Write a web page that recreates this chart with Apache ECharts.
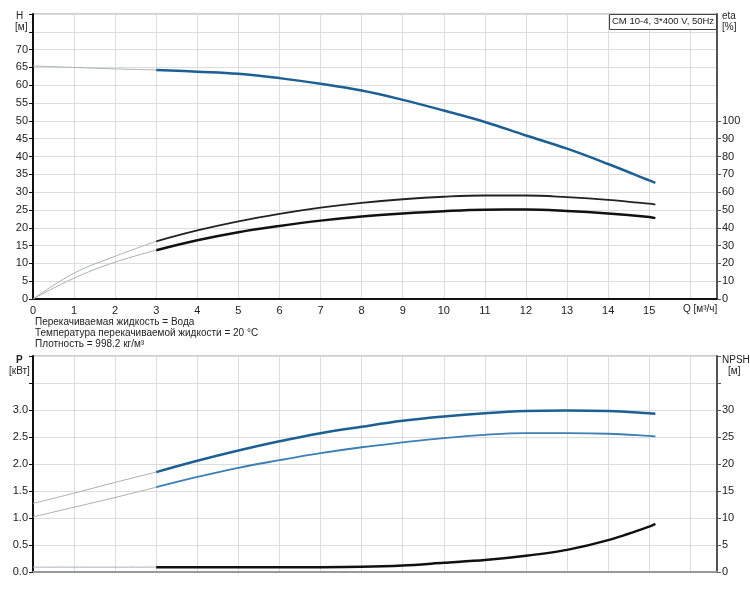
<!DOCTYPE html>
<html>
<head>
<meta charset="utf-8">
<script src="https://cdn.jsdelivr.net/npm/echarts@6/dist/echarts.min.js"></script>
<style>
  * { margin: 0; padding: 0; }
  body { background: #fff; }
  #chart { width: 750px; height: 600px; }
</style>
</head>
<body>
<div id="chart"></div>
<script>
// расход Q, м³/ч
var flowQ = [0, 1, 2, 3, 4, 5, 6, 7, 8, 9, 10, 11, 12, 13, 14, 15, 15.15];
// напор H, м
var headH = [65.4, 65.0, 64.6, 64.3, 63.8, 63.2, 62.0, 60.4, 58.5, 55.9, 52.9, 49.7, 45.9, 42.2, 37.9, 33.3, 32.6];
// КПД, %
var etaPump = [0, 14.5, 24.0, 32.4, 38.5, 43.6, 47.8, 51.3, 54.0, 56.0, 57.4, 58.1, 58.1, 57.2, 55.7, 53.5, 53.0];
var etaTotal = [0, 11.7, 20.7, 27.4, 33.0, 37.5, 41.0, 44.0, 46.3, 48.0, 49.3, 50.1, 50.2, 49.4, 48.0, 46.0, 45.4];
// мощность, кВт
var powerP1 = [1.27, 1.46, 1.66, 1.85, 2.06, 2.25, 2.42, 2.57, 2.69, 2.80, 2.88, 2.94, 2.98, 2.99, 2.98, 2.94, 2.93];
var powerP2 = [1.02, 1.20, 1.38, 1.57, 1.76, 1.93, 2.07, 2.20, 2.31, 2.40, 2.48, 2.54, 2.57, 2.57, 2.56, 2.52, 2.51];
// NPSH, м
var npsh = [0.9, 0.9, 0.9, 0.9, 0.9, 0.9, 0.9, 0.9, 0.95, 1.2, 1.7, 2.2, 3.0, 4.1, 5.9, 8.4, 8.9];

// подписанные деления шкалы КПД
var etaTicks = [0, 10, 20, 30, 40, 50, 60, 70, 80, 90, 100];

var infoLines = [
  'Перекачиваемая жидкость = Вода',
  'Температура перекачиваемой жидкости = 20 °C',
  'Плотность = 998.2 кг/м³'
];

var chart = echarts.init(document.getElementById('chart'));

function pairs(arr) {
  return flowQ.map(function (q, i) { return [q, arr[i]]; });
}
// тонкий участок 0..3 и основной участок от 3
function thin(arr) { return pairs(arr).slice(0, 4); }
function thick(arr) { return pairs(arr).slice(3); }

var font = 'Liberation Sans, Arial, sans-serif';
var gridLine = { show: true, lineStyle: { color: '#dcdcdc', width: 1 } };

function xAx(gi, labels) {
  return {
    type: 'value', gridIndex: gi, min: 0, max: 16.65, interval: 1,
    axisLine: { show: true, onZero: false, lineStyle: { color: gi === 0 ? '#111' : '#999', width: 2 } },
    axisTick: { show: false },
    axisLabel: {
      show: labels, color: '#222', fontSize: 11, fontFamily: font, margin: 6,
      formatter: function (v) { return v <= 15 ? String(v) : ''; }
    },
    splitLine: gridLine
  };
}

function yAx(gi, pos, max, step, labelMax, color, split, digits) {
  return {
    type: 'value', gridIndex: gi, position: pos, min: 0, max: max, interval: step,
    axisLine: { show: true, onZero: false, lineStyle: { color: color, width: 2 } },
    axisTick: { show: true, length: 4, lineStyle: { color: color } },
    axisLabel: {
      color: '#222', fontSize: 11, fontFamily: font, margin: 5,
      formatter: function (v) { return v <= labelMax ? v.toFixed(digits) : ''; }
    },
    splitLine: split ? gridLine : { show: false }
  };
}

function line(name, data, xi, yi, color, width, extra) {
  var s = {
    name: name, type: 'line', xAxisIndex: xi, yAxisIndex: yi, data: data,
    smooth: 0.4, symbol: 'none', lineStyle: { color: color, width: width }, z: 3
  };
  if (extra) { for (var k in extra) s[k] = extra[k]; }
  return s;
}

var thinColor = '#a9b0b8';

var p1Thick = thick(powerP1);
p1Thick[p1Thick.length - 1] = {
  value: p1Thick[p1Thick.length - 1],
  label: { show: true, formatter: 'P1', position: 'top', offset: [-8, 2], color: '#4b7fa8', fontSize: 11, fontFamily: font }
};
var p2Thick = thick(powerP2);
p2Thick[p2Thick.length - 1] = {
  value: p2Thick[p2Thick.length - 1],
  label: { show: true, formatter: 'P2', position: 'bottom', offset: [-8, -2], color: '#4b7fa8', fontSize: 11, fontFamily: font }
};

var etaAxis = yAx(0, 'right', 160, 10, 100, '#555', false, 0);
etaAxis.axisTick.customValues = etaTicks;
etaAxis.axisLabel.customValues = etaTicks;

var option = {
  animation: false,
  backgroundColor: '#fff',
  grid: [
    { left: 33, right: 33, top: 14, height: 285, show: true, borderColor: '#9a9a9a', borderWidth: 1, backgroundColor: 'transparent' },
    { left: 33, right: 33, top: 356, height: 216, show: true, borderColor: '#9a9a9a', borderWidth: 1, backgroundColor: 'transparent' }
  ],
  xAxis: [xAx(0, true), xAx(1, false)],
  yAxis: [
    yAx(0, 'left', 80, 5, 70, '#111', true, 0),
    etaAxis,
    yAx(1, 'left', 4, 0.5, 3, '#111', true, 1),
    yAx(1, 'right', 40, 5, 30, '#555', false, 0)
  ],
  series: [
    line('H thin', thin(headH), 0, 0, thinColor, 1),
    line('H', thick(headH), 0, 0, '#1c5f92', 2.5),
    line('eta1 thin', thin(etaPump), 0, 1, thinColor, 1),
    line('eta1', thick(etaPump), 0, 1, '#222', 1.8),
    line('eta2 thin', thin(etaTotal), 0, 1, thinColor, 1),
    line('eta2', thick(etaTotal), 0, 1, '#111', 2.5),
    line('P1 thin', thin(powerP1), 1, 2, thinColor, 1),
    line('P1', p1Thick, 1, 2, '#1c5f92', 2.5),
    line('P2 thin', thin(powerP2), 1, 2, thinColor, 1),
    line('P2', p2Thick, 1, 2, '#3b7fb3', 1.8),
    line('NPSH thin', thin(npsh), 1, 3, thinColor, 1),
    line('NPSH', thick(npsh), 1, 3, '#111', 2.5, { smooth: 0.3 })
  ],
  graphic: [
    { type: 'text', left: 16, top: 11, style: { text: 'H', fontSize: 10, fontFamily: font, fill: '#222' } },
    { type: 'text', left: 15, top: 22, style: { text: '[м]', fontSize: 10, fontFamily: font, fill: '#222' } },
    { type: 'text', left: 722, top: 11, style: { text: 'eta', fontSize: 10, fontFamily: font, fill: '#222' } },
    { type: 'text', left: 722, top: 22, style: { text: '[%]', fontSize: 10, fontFamily: font, fill: '#222' } },
    { type: 'text', left: 683, top: 304, style: { text: 'Q [м³/ч]', fontSize: 10, fontFamily: font, fill: '#222' } },
    { type: 'text', left: 16, top: 355, style: { text: 'P', fontSize: 10, fontFamily: font, fill: '#222', fontWeight: 'bold' } },
    { type: 'text', left: 9, top: 366, style: { text: '[кВт]', fontSize: 10, fontFamily: font, fill: '#222' } },
    { type: 'text', left: 722, top: 355, style: { text: 'NPSH', fontSize: 10, fontFamily: font, fill: '#222' } },
    { type: 'text', left: 728, top: 366, style: { text: '[м]', fontSize: 10, fontFamily: font, fill: '#222' } },
    { type: 'rect', shape: { x: 609.5, y: 14.5, width: 107, height: 15 }, style: { fill: '#fff', stroke: '#444', lineWidth: 1 }, z: 10 },
    { type: 'text', left: 612, top: 16.5, z: 11, style: { text: 'CM 10-4, 3*400 V, 50Hz', fontSize: 9.5, fontFamily: font, fill: '#222' } },
    { type: 'text', left: 35, top: 317, style: { text: infoLines[0], fontSize: 10, fontFamily: font, fill: '#222' } },
    { type: 'text', left: 35, top: 328, style: { text: infoLines[1], fontSize: 10, fontFamily: font, fill: '#222' } },
    { type: 'text', left: 35, top: 339, style: { text: infoLines[2], fontSize: 10, fontFamily: font, fill: '#222' } }
  ]
};

chart.setOption(option);
</script>
</body>
</html>
